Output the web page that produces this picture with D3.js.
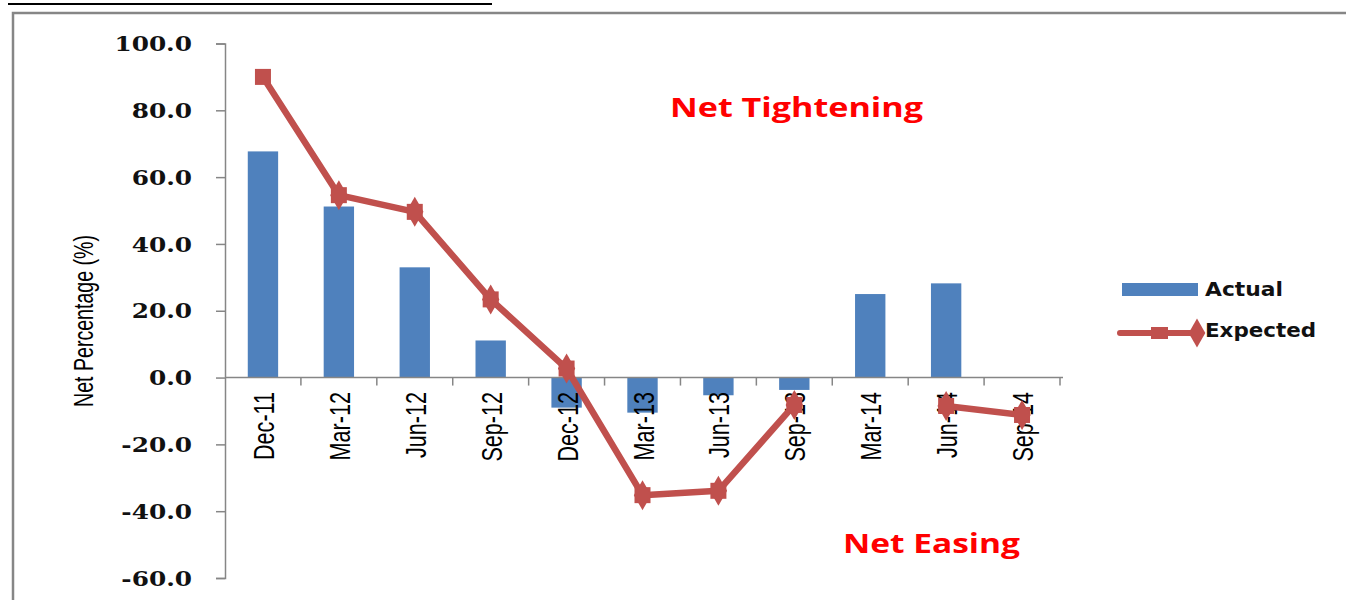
<!DOCTYPE html>
<html>
<head>
<meta charset="utf-8">
<script src="https://cdn.jsdelivr.net/npm/d3@7"></script>
<style>
  body { margin: 0; background: #fff; }
  svg { display: block; }
</style>
</head>
<body>
<div id="chart"></div>
<script>
const categories = ['Dec-11', 'Mar-12', 'Jun-12', 'Sep-12', 'Dec-12', 'Mar-13', 'Jun-13', 'Sep-13', 'Mar-14', 'Jun-14', 'Sep-14'];
const actual = [67.7, 51.2, 33.0, 11.1, -9.0, -10.5, -5.3, -3.7, 25.0, 28.2, 0];
const expected = [90.0, 54.6, 49.6, 23.4, 2.7, -35.2, -33.9, -8.2, null, -8.5, -11.2];
const yTicks = [-60, -40, -20, 0, 20, 40, 60, 80, 100];
const seriesNames = ['Actual', 'Expected'];

const W = 1346, H = 600;
const barColor = '#4F81BD';
const lineColor = '#C0504D';
const axisColor = '#868686';

const svg = d3.select('#chart')
  .append('svg')
  .attr('width', W)
  .attr('height', H);

// remains of the caption above the frame
svg.append('line')
  .attr('x1', 8).attr('x2', 492)
  .attr('y1', 4).attr('y2', 4)
  .attr('stroke', '#000')
  .attr('stroke-width', 2);

// chart frame, runs off the right and bottom
svg.append('rect')
  .attr('x', 13).attr('y', 13)
  .attr('width', 1400).attr('height', 700)
  .attr('fill', 'none')
  .attr('stroke', axisColor)
  .attr('stroke-width', 2.5);

const x = d3.scaleBand().domain(categories).range([225, 1060]);
const y = d3.scaleLinear().domain([-60, 100]).range([578, 43.5]);
const barW = x.bandwidth() * 0.4;

// bars
svg.append('g')
  .selectAll('rect')
  .data(actual)
  .join('rect')
  .attr('x', (d, i) => x(categories[i]) + (x.bandwidth() - barW) / 2)
  .attr('y', d => y(Math.max(0, d)))
  .attr('width', barW)
  .attr('height', d => Math.abs(y(d) - y(0)))
  .attr('fill', barColor);

// y axis
const sx = 1.24;
const yAxis = svg.append('g')
  .attr('transform', 'translate(225,0)')
  .call(d3.axisLeft(y).tickValues(yTicks).tickSize(9).tickPadding(0).tickFormat(d => d.toFixed(1)));
yAxis.select('.domain').attr('stroke', axisColor).attr('stroke-width', 1.5);
yAxis.selectAll('.tick line').attr('stroke', axisColor).attr('stroke-width', 1.5);
yAxis.selectAll('.tick text')
  .attr('font-family', 'DejaVu Serif')
  .attr('font-weight', 'bold')
  .attr('font-size', 20)
  .attr('fill', '#111')
  .attr('x', -33 / sx)
  .attr('dy', '0.36em')
  .attr('transform', `scale(${sx},1)`);

// x axis line along zero, ticks between categories
const xAxis = svg.append('g').attr('transform', `translate(0,${y(0)})`);
xAxis.append('line')
  .attr('x1', 225).attr('x2', 1063)
  .attr('stroke', axisColor).attr('stroke-width', 1.5);
xAxis.selectAll('line.tk')
  .data(categories.slice(1).concat(['end']))
  .join('line')
  .attr('class', 'tk')
  .attr('x1', (d, i) => i < categories.length - 1 ? x(d) : 1060)
  .attr('x2', (d, i) => i < categories.length - 1 ? x(d) : 1060)
  .attr('y1', 0).attr('y2', 8)
  .attr('stroke', axisColor).attr('stroke-width', 1.5);

svg.append('g')
  .selectAll('text')
  .data(categories)
  .join('text')
  .attr('transform', d => `translate(${x(d) + x.bandwidth() / 2},392) rotate(-90) scale(0.72,1)`)
  .attr('y', 11)
  .attr('text-anchor', 'end')
  .attr('font-family', 'Liberation Sans')
  .attr('font-size', 30)
  .attr('fill', '#000')
  .text(d => d);

// y axis title
svg.append('text')
  .attr('transform', 'translate(93,321) rotate(-90)')
  .attr('text-anchor', 'middle')
  .attr('font-family', 'Liberation Sans')
  .attr('font-size', 27)
  .attr('textLength', 172)
  .attr('lengthAdjust', 'spacingAndGlyphs')
  .attr('fill', '#000')
  .text('Net Percentage (%)');

// expected line
const pts = expected.map((v, i) => ({ c: categories[i], v }));
const line = d3.line()
  .defined(d => d.v !== null)
  .x(d => x(d.c) + x.bandwidth() / 2)
  .y(d => y(d.v));

svg.append('path')
  .datum(pts)
  .attr('d', line)
  .attr('fill', 'none')
  .attr('stroke', lineColor)
  .attr('stroke-width', 6.5)
  .attr('stroke-linejoin', 'round');

const marks = svg.append('g')
  .selectAll('g')
  .data(pts.filter(d => d.v !== null))
  .join('g')
  .attr('transform', d => `translate(${x(d.c) + x.bandwidth() / 2},${y(d.v)})`);
marks.append('rect')
  .attr('x', -8).attr('y', -8)
  .attr('width', 16).attr('height', 16)
  .attr('fill', lineColor);
marks.filter((d, i) => i > 0)
  .append('path')
  .attr('d', d3.symbol(d3.symbolDiamond, 260))
  .attr('fill', lineColor);

// annotations
svg.append('text')
  .attr('x', 670).attr('y', 117)
  .attr('font-family', 'Open Sans')
  .attr('font-weight', 'bold')
  .attr('font-size', 26)
  .attr('textLength', 253)
  .attr('lengthAdjust', 'spacingAndGlyphs')
  .attr('fill', '#FF0000')
  .text('Net Tightening');

svg.append('text')
  .attr('x', 843).attr('y', 553)
  .attr('font-family', 'Open Sans')
  .attr('font-weight', 'bold')
  .attr('font-size', 26)
  .attr('textLength', 177)
  .attr('lengthAdjust', 'spacingAndGlyphs')
  .attr('fill', '#FF0000')
  .text('Net Easing');

// legend
const legend = svg.append('g');
legend.append('rect')
  .attr('x', 1122).attr('y', 283)
  .attr('width', 76).attr('height', 13)
  .attr('fill', barColor);
legend.append('line')
  .attr('x1', 1120).attr('x2', 1200)
  .attr('y1', 333).attr('y2', 333)
  .attr('stroke', lineColor).attr('stroke-width', 6)
  .attr('stroke-linecap', 'round');
legend.append('rect')
  .attr('x', 1151).attr('y', 327)
  .attr('width', 17).attr('height', 12)
  .attr('fill', lineColor);
legend.append('path')
  .attr('transform', 'translate(1197,333)')
  .attr('d', d3.symbol(d3.symbolDiamond, 240))
  .attr('fill', lineColor);

const legendLen = [78, 111];
legend.selectAll('text')
  .data(seriesNames)
  .join('text')
  .attr('x', 1205)
  .attr('y', (d, i) => 296 + i * 41)
  .attr('font-family', 'DejaVu Sans')
  .attr('font-weight', 'bold')
  .attr('font-size', 20)
  .attr('textLength', (d, i) => legendLen[i])
  .attr('lengthAdjust', 'spacingAndGlyphs')
  .attr('fill', '#111')
  .text(d => d);
</script>
</body>
</html>
